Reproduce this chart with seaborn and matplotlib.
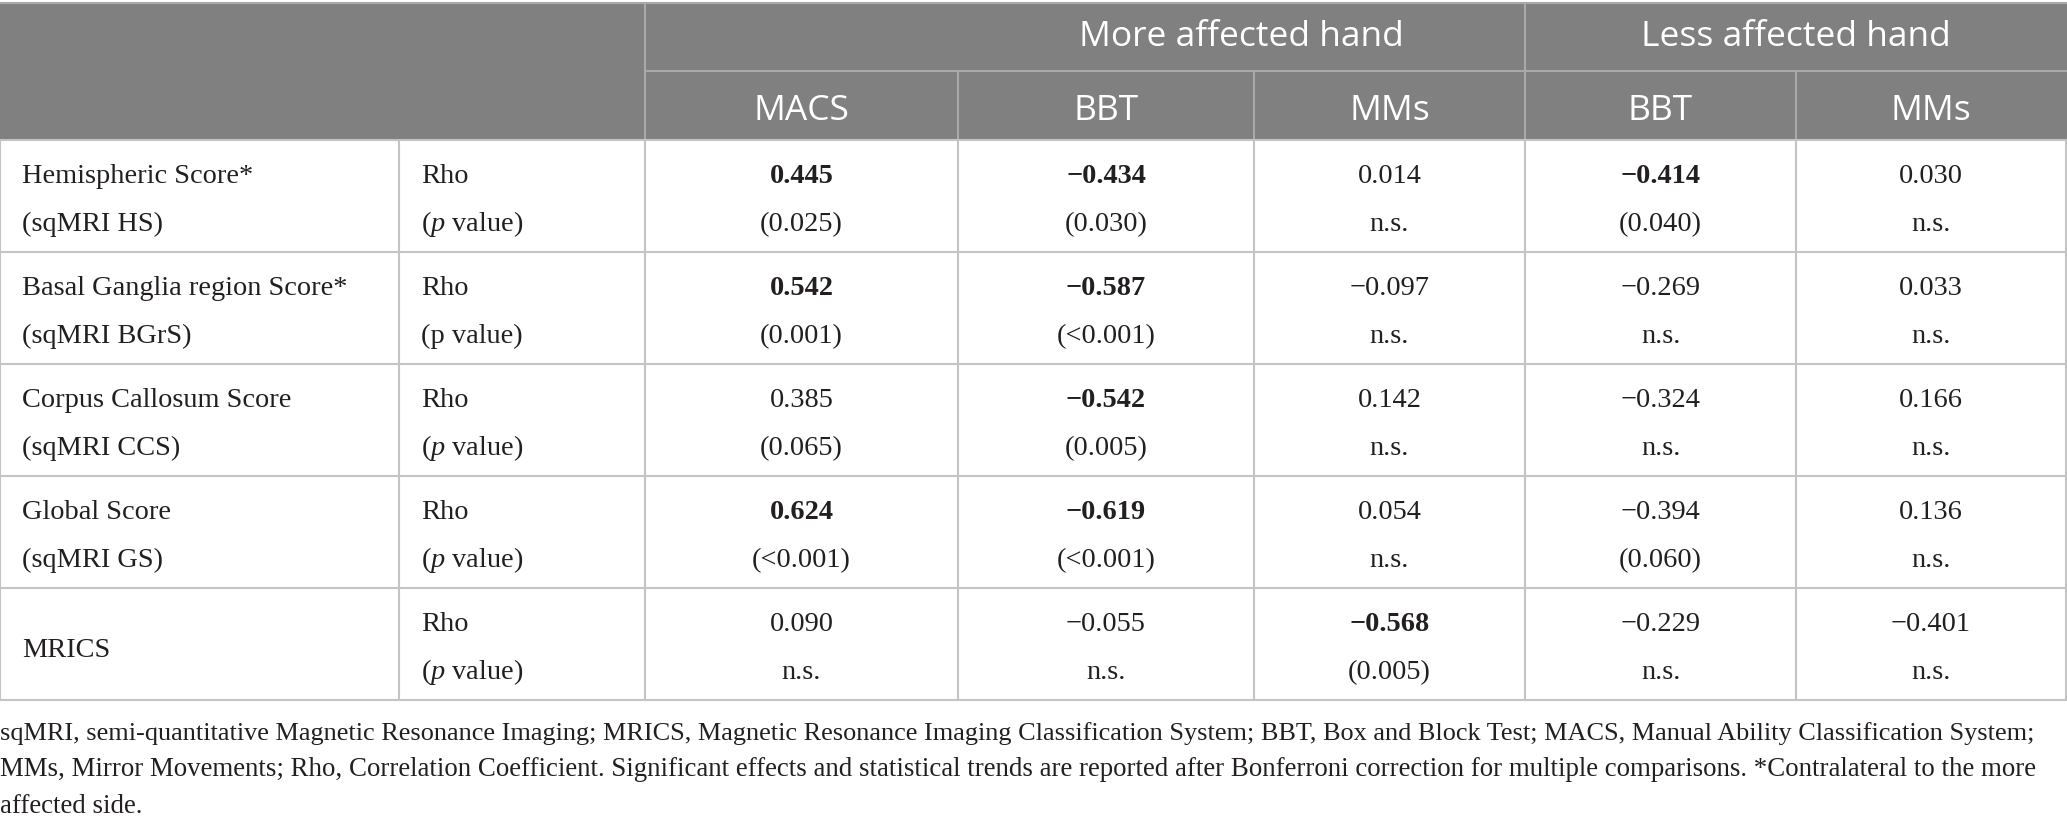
import seaborn as sns
import matplotlib.pyplot as plt
from matplotlib.patches import Rectangle

# table content
groups = ["More affected hand", "Less affected hand"]
columns = ["MACS", "BBT", "MMs", "BBT", "MMs"]
measures = ["Hemispheric Score*", "Basal Ganglia region Score*", "Corpus Callosum Score",
            "Global Score", "MRICS"]
abbrev = ["(sqMRI HS)", "(sqMRI BGrS)", "(sqMRI CCS)", "(sqMRI GS)", ""]
stat_label = ["Rho", "Rho", "Rho", "Rho", "Rho"]
p_label_italic = [True, False, True, True, True]
rho = [
    ["0.445", "\u22120.434", "0.014", "\u22120.414", "0.030"],
    ["0.542", "\u22120.587", "\u22120.097", "\u22120.269", "0.033"],
    ["0.385", "\u22120.542", "0.142", "\u22120.324", "0.166"],
    ["0.624", "\u22120.619", "0.054", "\u22120.394", "0.136"],
    ["0.090", "\u22120.055", "\u22120.568", "\u22120.229", "\u22120.401"],
]
pval = [
    ["(0.025)", "(0.030)", "n.s.", "(0.040)", "n.s."],
    ["(0.001)", "(<0.001)", "n.s.", "n.s.", "n.s."],
    ["(0.065)", "(0.005)", "n.s.", "n.s.", "n.s."],
    ["(<0.001)", "(<0.001)", "n.s.", "(0.060)", "n.s."],
    ["n.s.", "n.s.", "(0.005)", "n.s.", "n.s."],
]
caption = [
    "sqMRI, semi-quantitative Magnetic Resonance Imaging; MRICS, Magnetic Resonance Imaging Classification System; BBT, Box and Block Test; MACS, Manual Ability Classification System;",
    "MMs, Mirror Movements; Rho, Correlation Coefficient. Significant effects and statistical trends are reported after Bonferroni correction for multiple comparisons. *Contralateral to the more",
    "affected side.",
]
# right edge (px) that the full caption lines reach in the reference
caption_fit = [2037, 2043, None]

def significant(p):
    if p == "n.s.":
        return False
    return float(p.strip("()<")) < 0.05

# layout in pixels
W, H = 2067, 829
col_x = [0, 399, 645, 958, 1254, 1525, 1796, 2066]
head_top, head_mid, head_bot = 4, 72, 141
row_h = 112
header_bg = "#808080"
header_line = "#a9a9a9"
grid = "#c4c4c4"
ink = "#231f20"

sns.set_theme(style="white")
plt.rcParams["mathtext.fontset"] = "custom"
plt.rcParams["mathtext.rm"] = "Liberation Serif"
plt.rcParams["mathtext.it"] = "Liberation Serif:italic"

fig = plt.figure(figsize=(W / 100, H / 100), dpi=100)
ax = fig.add_axes([0, 0, 1, 1])
ax.set_xlim(0, W)
ax.set_ylim(H, 0)
ax.axis("off")

serif = dict(family="Liberation Serif", fontsize=20.4, color=ink)
sans = dict(family="Open Sans", fontsize=25.5, color="white")

# header block
ax.add_patch(Rectangle((0, head_top), W, head_bot - head_top, color=header_bg, lw=0))
ax.plot([0, W], [head_top, head_top], color=header_line, lw=1.5)
ax.plot([col_x[2], W], [head_mid, head_mid], color=header_line, lw=1.5)
for x in [col_x[2], col_x[5]]:
    ax.plot([x, x], [head_top, head_bot], color=header_line, lw=1.5)
for x in [col_x[3], col_x[4], col_x[6]]:
    ax.plot([x, x], [head_mid, head_bot], color=header_line, lw=1.5)

ax.text((col_x[3] + col_x[5]) / 2, 46, groups[0], ha="center", va="baseline", **sans)
ax.text((col_x[5] + col_x[7]) / 2, 46, groups[1], ha="center", va="baseline", **sans)
for j, name in enumerate(columns):
    cx = (col_x[j + 2] + col_x[j + 3]) / 2
    ax.text(cx, 120, name, ha="center", va="baseline", **sans)

# body grid
n = len(measures)
bottom = head_bot + n * row_h
for i in range(n + 1):
    y = head_bot + i * row_h
    ax.plot([0, W], [y, y], color=grid, lw=1.5)
for x in col_x:
    ax.plot([x, x], [head_bot, bottom], color=grid, lw=1.5)

for i in range(n):
    top = head_bot + i * row_h
    y1, y2 = top + 42, top + 90
    if abbrev[i]:
        ax.text(22, y1, measures[i], ha="left", va="baseline", **serif)
        ax.text(22, y2, abbrev[i], ha="left", va="baseline", **serif)
    else:
        ax.text(22, top + 68, measures[i], ha="left", va="baseline", **serif)
    ax.text(col_x[1] + 22, y1, stat_label[i], ha="left", va="baseline", **serif)
    plabel = "($p$ value)" if p_label_italic[i] else "(p value)"
    ax.text(col_x[1] + 22, y2, plabel, ha="left", va="baseline", **serif)
    for j in range(len(columns)):
        cx = (col_x[j + 2] + col_x[j + 3]) / 2
        bold = significant(pval[i][j])
        ax.text(cx, y1, rho[i][j], ha="center", va="baseline",
                fontweight="bold" if bold else "normal", **serif)
        ax.text(cx, y2, pval[i][j], ha="center", va="baseline", **serif)

# footnote, each full line sized to span the same width as in the reference
renderer = fig.canvas.get_renderer()
size = 19.0
for k, line in enumerate(caption):
    t = ax.text(0, 740 + k * 36.5, line, ha="left", va="baseline",
                family="Liberation Serif", fontsize=size, color=ink)
    if caption_fit[k]:
        width = t.get_window_extent(renderer).width
        size = size * caption_fit[k] / width
        t.set_fontsize(size)

fig.savefig("out.png", dpi=100)
